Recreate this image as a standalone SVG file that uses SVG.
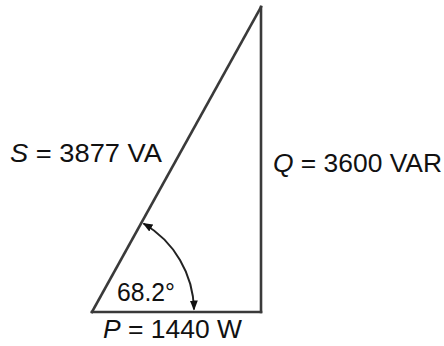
<svg xmlns="http://www.w3.org/2000/svg" width="444" height="346" viewBox="0 0 444 346">
<style>
.side{stroke:#3a3a3a;stroke-width:2.6;fill:none;stroke-linecap:square}
.lbl{font-family:"Liberation Sans",Arial,sans-serif;font-size:26px;fill:#111}
.it{font-style:italic}
.arc{stroke:#222;stroke-width:2;fill:none}
</style>
<defs>
<marker id="ah" viewBox="0 0 10 10" refX="9" refY="5" markerWidth="5" markerHeight="5" orient="auto-start-reverse" markerUnits="strokeWidth">
<path d="M0,1 L10,5 L0,9 Z" fill="#111"/>
</marker>
</defs>
<rect width="444" height="346" fill="#fff"/>
<g id="connectors">
<line id="hyp" class="side" x1="92" y1="312" x2="261" y2="7"/>
<line id="vert" class="side" x1="261" y1="7" x2="261" y2="312"/>
<line id="base" class="side" x1="92" y1="312" x2="261" y2="312"/>
<path id="angle-arc" class="arc" d="M 143.5 223.5 A 102 102 0 0 1 194 309.5" marker-start="url(#ah)" marker-end="url(#ah)"/>
</g>
<g id="label-S"><text class="lbl" x="10" y="162" textLength="152" lengthAdjust="spacingAndGlyphs"><tspan class="it">S</tspan> = 3877 VA</text></g>
<g id="label-Q"><text class="lbl" x="273" y="172" textLength="169" lengthAdjust="spacingAndGlyphs"><tspan class="it">Q</tspan> = 3600 VAR</text></g>
<g id="label-P"><text class="lbl" x="103" y="338" textLength="139" lengthAdjust="spacingAndGlyphs"><tspan class="it">P</tspan> = 1440 W</text></g>
<g id="label-angle"><text class="lbl" x="117" y="301" font-size="25" style="font-size:25px" textLength="58" lengthAdjust="spacingAndGlyphs">68.2°</text></g>
</svg>
